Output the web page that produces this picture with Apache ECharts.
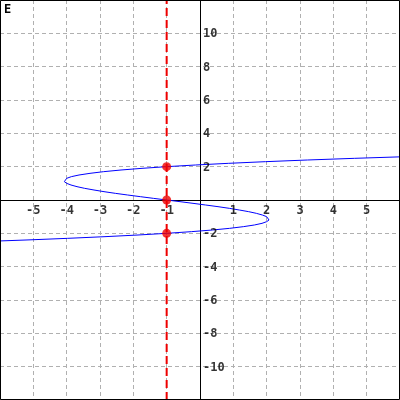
<!DOCTYPE html>
<html>
<head>
<meta charset="utf-8">
<script src="https://cdn.jsdelivr.net/npm/echarts@6/dist/echarts.min.js"></script>
<style>
  html, body { margin: 0; padding: 0; background: #fff; }
  #chart { width: 400px; height: 400px; }
</style>
</head>
<body>
<div id="chart"></div>
<script>
// curve points, [x, y]
const curvePoints = [
  [-6.05, -2.46], [-5.22, -2.4], [-3.97, -2.3], [-2.85, -2.2], [-1.86, -2.1],
  [-1.0, -2.0], [-0.26, -1.9], [0.37, -1.8], [0.89, -1.7], [1.3, -1.6],
  [1.63, -1.5], [1.86, -1.4], [2.0, -1.3], [2.07, -1.2], [2.07, -1.1],
  [2.0, -1.0], [1.87, -0.9], [1.69, -0.8], [1.46, -0.7], [1.18, -0.6],
  [0.88, -0.5], [0.54, -0.4], [0.17, -0.3], [-0.21, -0.2], [-0.6, -0.1],
  [-1.0, 0.0], [-1.4, 0.1], [-1.79, 0.2], [-2.17, 0.3], [-2.54, 0.4],
  [-2.88, 0.5], [-3.18, 0.6], [-3.46, 0.7], [-3.69, 0.8], [-3.87, 0.9],
  [-4.0, 1.0], [-4.07, 1.1], [-4.07, 1.2], [-4.0, 1.3], [-3.86, 1.4],
  [-3.63, 1.5], [-3.3, 1.6], [-2.89, 1.7], [-2.37, 1.8], [-1.74, 1.9],
  [-1.0, 2.0], [-0.14, 2.1], [0.85, 2.2], [1.97, 2.3], [3.22, 2.4],
  [4.63, 2.5], [6.18, 2.6]
];
const markedPoints = [[-1, 2], [-1, 0], [-1, -2]];
const verticalLine = [[-1, -12], [-1, 12]];

// tick labels drawn on the axes through the origin
const xTickLabels = [-5, -4, -3, -2, -1, 1, 2, 3, 4, 5];
const yTickLabels = [-10, -8, -6, -4, -2, 2, 4, 6, 8, 10];

const labelFont = 'DejaVu Sans Mono';
const gridDash = [4, 3];
const gridColor = '#b0b0b0';

const tickLabel = {
  show: true,
  color: '#000',
  fontFamily: labelFont,
  fontWeight: 'bold',
  fontSize: 12
};

const chart = echarts.init(document.getElementById('chart'));

chart.setOption({
  animation: false,
  grid: { left: 0, right: 0, top: 0, bottom: 0, containLabel: false, outerBoundsMode: 'none' },
  xAxis: {
    type: 'value',
    min: -6,
    max: 6,
    interval: 1,
    axisLine: { onZero: true, lineStyle: { color: '#000', width: 1 } },
    axisTick: { show: false },
    axisLabel: { show: false },
    splitLine: { show: true, lineStyle: { color: gridColor, type: gridDash, width: 1 } }
  },
  yAxis: {
    type: 'value',
    min: -12,
    max: 12,
    interval: 2,
    axisLine: { onZero: true, lineStyle: { color: '#000', width: 1 } },
    axisTick: { show: false },
    axisLabel: { show: false },
    splitLine: { show: true, lineStyle: { color: gridColor, type: gridDash, width: 1 } }
  },
  series: [
    {
      type: 'line',
      data: curvePoints,
      showSymbol: false,
      clip: true,
      lineStyle: { color: '#0000ff', width: 1 },
      z: 3
    },
    {
      type: 'line',
      data: verticalLine,
      showSymbol: false,
      lineStyle: { color: '#ee0000', width: 2, type: [8, 4] },
      z: 4
    },
    {
      type: 'scatter',
      data: markedPoints,
      symbolSize: 9,
      itemStyle: { color: '#ee0000' },
      z: 5
    },
    {
      type: 'scatter',
      data: xTickLabels.map((v) => [v, 0]),
      symbolSize: 0,
      silent: true,
      label: { ...tickLabel, position: 'bottom', distance: 5, formatter: (p) => String(p.value[0]) },
      z: 6
    },
    {
      type: 'scatter',
      data: yTickLabels.map((v) => [0, v]),
      symbolSize: 0,
      silent: true,
      label: { ...tickLabel, position: 'right', distance: 3, offset: [0, 1], formatter: (p) => String(p.value[1]) },
      z: 6
    }
  ],
  graphic: [
    {
      type: 'text',
      left: 4,
      top: 4,
      style: { text: 'E', fill: '#000', font: 'bold 12px DejaVu Sans Mono' }
    },
    {
      type: 'rect',
      shape: { x: 0.5, y: 0.5, width: 399, height: 399 },
      style: { fill: 'none', stroke: '#000', lineWidth: 1 },
      z: 10
    }
  ]
});
</script>
</body>
</html>
